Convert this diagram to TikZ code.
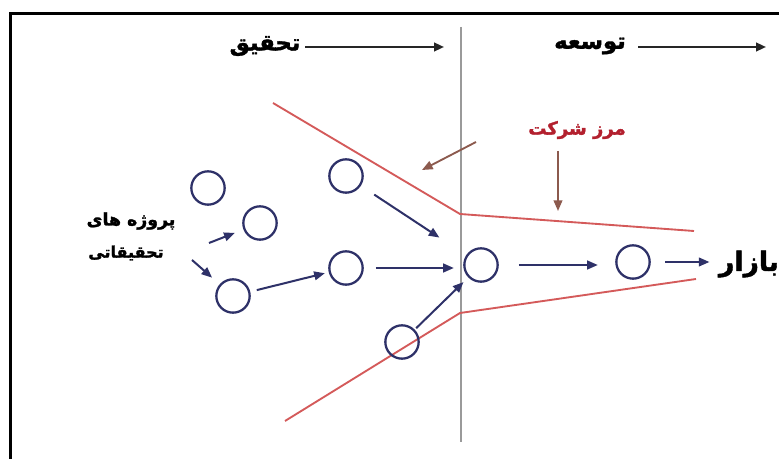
\documentclass[tikz,border=0pt]{standalone}
\usepackage{fontspec}
\newfontfamily\arabicfont[Script=Arabic,FakeBold=1.6]{DejaVu Sans}
\TeXXeTstate=1
\usetikzlibrary{arrows.meta}
\definecolor{navy}{HTML}{2E3168}
\definecolor{redline}{HTML}{D45A5A}
\definecolor{brownarrow}{HTML}{8C5A4E}
\definecolor{boundtext}{HTML}{B3202E}
\definecolor{divgray}{HTML}{9A9A9A}
\begin{document}
\begin{tikzpicture}[x=0.75pt,y=-0.75pt,
  circ/.style={circle,draw=navy,line width=1.7pt,minimum size=25pt,inner sep=0pt},
  barrow/.style={draw=navy,line width=1.5pt,-{Triangle[length=8pt,width=6.5pt]}},
  karrow/.style={draw=black!85,line width=1.6pt,-{Triangle[length=7.5pt,width=6.5pt]}},
  brarrow/.style={draw=brownarrow,line width=1.4pt,-{Triangle[length=8pt,width=6.5pt]}},
  redl/.style={draw=redline,line width=1.4pt},
  arlabel/.style={inner sep=1pt,font=\arabicfont\bfseries}]
\useasboundingbox (0,0) rectangle (779,459);
\clip (0,0) rectangle (779,459);
\fill[white] (0,0) rectangle (779,459);
% frame
\draw[line width=2.4pt,black] (10.5,480) -- (10.5,13.5) -- (800,13.5);
% divider
\draw[divgray,line width=1.1pt] (461,27) -- (461,442);
% headers
\node[arlabel,font=\arabicfont\bfseries\fontsize{17}{19}\selectfont] (h1) at (265,46) {\beginR تحقیق\endR};
\node[arlabel,font=\arabicfont\bfseries\fontsize{17}{19}\selectfont] (h2) at (590,46) {\beginR توسعه\endR};
\coordinate (t1s) at (305,47); \coordinate (t1e) at (444,47);
\coordinate (t2s) at (638,47); \coordinate (t2e) at (766,47);
\draw[karrow] (t1s) -- (t1e);
\draw[karrow] (t2s) -- (t2e);
% red boundary lines
\coordinate (ru1) at (273,103); \coordinate (ru2) at (460,214); \coordinate (ru3) at (694,231);
\coordinate (rl1) at (285,421); \coordinate (rl2) at (460,313); \coordinate (rl3) at (696,279);
\draw[redl] (ru1) -- (ru2) -- (ru3);
\draw[redl] (rl1) -- (rl2) -- (rl3);
% boundary label and arrows
\node[arlabel,text=boundtext,font=\arabicfont\bfseries\fontsize{13.5}{15}\selectfont] (bound) at (577,130) {\beginR مرز شرکت\endR};
\coordinate (b1s) at (476,142); \coordinate (b1e) at (422,170);
\coordinate (b2s) at (558,151); \coordinate (b2e) at (558,211);
\draw[brarrow] (b1s) -- (b1e);
\draw[brarrow] (b2s) -- (b2e);
% left labels
\node[arlabel,font=\arabicfont\bfseries\fontsize{13}{15}\selectfont] (proj1) at (131,221) {\beginR پروژه های\endR};
\node[arlabel,font=\arabicfont\bfseries\fontsize{12}{14}\selectfont] (proj2) at (126,253) {\beginR تحقیقاتی\endR};
\node[arlabel,font=\arabicfont\bfseries\fontsize{20}{22}\selectfont] (bazar) at (749,264) {\beginR بازار\endR};
% circles
\node[circ] (c1) at (208,188) {};
\node[circ] (c2) at (260,223) {};
\node[circ] (c3) at (233,296) {};
\node[circ] (c4) at (346,176) {};
\node[circ] (c5) at (346,268) {};
\node[circ] (c6) at (481,265) {};
\node[circ] (c7) at (633,262) {};
\node[circ] (c8) at (402,342) {};
% flow arrows
\coordinate (a1) at (209,243);
\coordinate (a2) at (192,260);
\draw[barrow,shorten >=7pt] (a1) -- (c2);
\draw[barrow,shorten >=7.5pt] (a2) -- (c3);
\draw[barrow,shorten <=5pt,shorten >=3pt] (c3) -- (c5);
\draw[barrow,shorten <=12pt,shorten >=24pt] (c4) -- (c6);
\draw[barrow,shorten <=9pt,shorten >=7pt] (c5.east) -- (c5.east -| c6.west);
\draw[barrow,shorten <=1.5pt,shorten >=5pt] (c8) -- (c6);
\draw[barrow,shorten <=15pt,shorten >=13pt] (c6.east) -- (c6.east -| c7.west);
\draw[barrow,shorten <=11pt,shorten >=6pt] (c7.east) -- (c7.east -| bazar.west);
\end{tikzpicture}
\end{document}
